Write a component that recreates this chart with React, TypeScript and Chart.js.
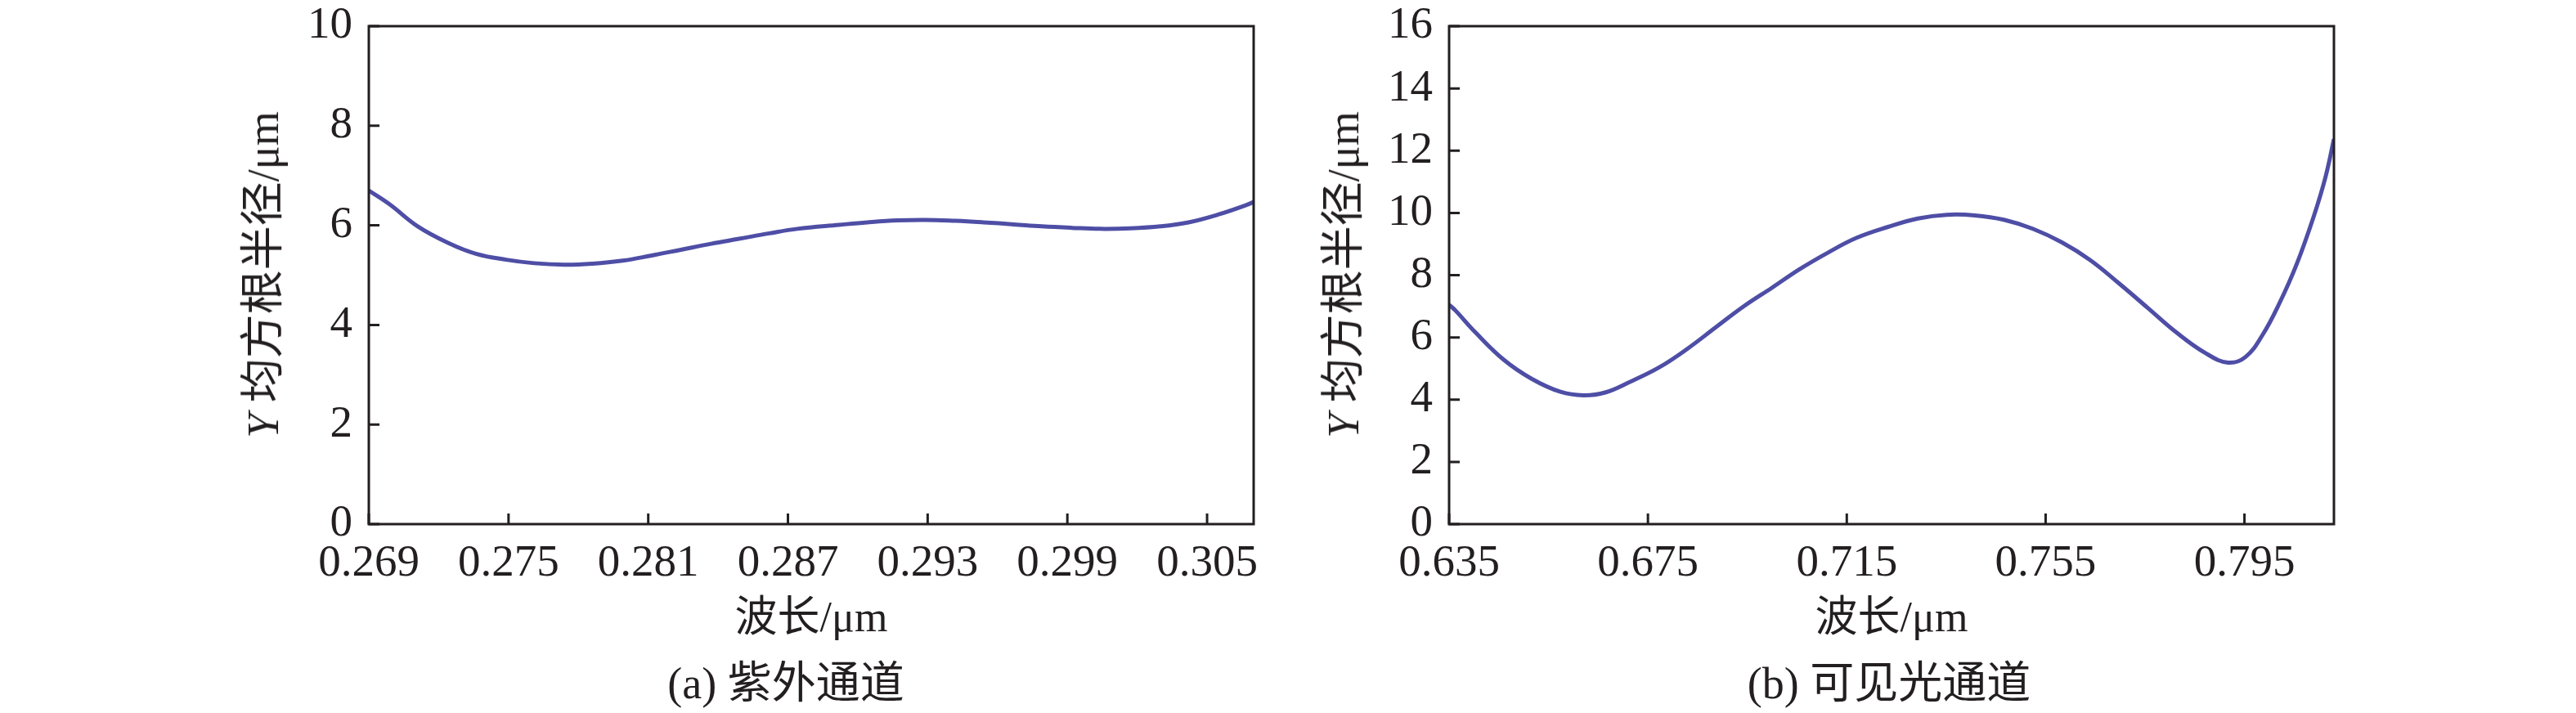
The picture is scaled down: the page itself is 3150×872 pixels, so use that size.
import React, { useEffect, useRef } from "react";
import Chart from "chart.js/auto";
import type { ChartConfiguration, Plugin } from "chart.js";

// (a) UV channel, wavelength in um vs Y RMS radius in um
const UV_WAVELENGTH = [
  0.269, 0.2699, 0.2711, 0.2724, 0.2736, 0.2749, 0.2761, 0.2774, 0.2786, 0.2799, 0.2811,
  0.2824, 0.2837, 0.2849, 0.2862, 0.2874, 0.2892, 0.2904, 0.2917, 0.2929, 0.2942, 0.2954,
  0.2967, 0.2979, 0.2992, 0.3004, 0.3017, 0.303, 0.3042, 0.3055, 0.3067, 0.307,
];
const UV_RMS_RADIUS = [
  6.7, 6.42, 5.98, 5.65, 5.43, 5.31, 5.24, 5.21, 5.23, 5.29, 5.39,
  5.51, 5.63, 5.73, 5.84, 5.93, 6.01, 6.06, 6.1, 6.11, 6.09, 6.06,
  6.02, 5.98, 5.95, 5.93, 5.94, 5.98, 6.06, 6.22, 6.41, 6.47,
];
const UV_X_TICKS = [0.269, 0.275, 0.281, 0.287, 0.293, 0.299, 0.305];

// (b) visible channel
const VIS_WAVELENGTH = [
  0.635, 0.6363, 0.6403, 0.646, 0.6516, 0.6574, 0.662, 0.6664, 0.6715, 0.6773, 0.6829,
  0.6887, 0.6943, 0.7, 0.7056, 0.7114, 0.717, 0.7233, 0.7293, 0.7351, 0.7408, 0.7466,
  0.7524, 0.7583, 0.764, 0.7698, 0.7756, 0.7813, 0.7871, 0.7917, 0.7952, 0.7986, 0.8021,
  0.8055, 0.809, 0.8113, 0.813,
];
const VIS_RMS_RADIUS = [
  7.05, 6.86, 6.16, 5.28, 4.67, 4.25, 4.14, 4.23, 4.58, 5.04, 5.63,
  6.33, 7.0, 7.6, 8.2, 8.74, 9.2, 9.55, 9.82, 9.94, 9.92, 9.78,
  9.49, 9.05, 8.48, 7.73, 6.94, 6.16, 5.5, 5.19, 5.37, 6.07, 7.12,
  8.35, 9.92, 11.15, 12.37,
];
const VIS_X_TICKS = [0.635, 0.675, 0.715, 0.755, 0.795];

const INK = "#231f20";
const LINE_COLOR = "#4e4ea6";
const SERIF = '"Liberation Serif", "Noto Sans CJK SC", serif';

const frameWithInnerTicks: Plugin = {
  id: "frameWithInnerTicks",
  afterDatasetsDraw(chart) {
    const { ctx, chartArea: area, scales } = chart;
    ctx.save();
    ctx.strokeStyle = INK;
    ctx.lineWidth = 3;
    ctx.strokeRect(area.left, area.top, area.right - area.left, area.bottom - area.top);
    ctx.beginPath();
    scales.x.ticks.forEach((tick) => {
      const px = scales.x.getPixelForValue(tick.value);
      ctx.moveTo(px, area.bottom);
      ctx.lineTo(px, area.bottom - 13);
    });
    scales.y.ticks.forEach((tick) => {
      const py = scales.y.getPixelForValue(tick.value);
      ctx.moveTo(area.left, py);
      ctx.lineTo(area.left + 13, py);
    });
    ctx.stroke();
    ctx.restore();
  },
};

const Panel: React.FC<{
  wavelength: number[];
  radius: number[];
  xTicks: number[];
  xMin: number;
  xMax: number;
  yMax: number;
  yAxisWidth: number;
  rightPad: number;
}> = ({ wavelength, radius, xTicks, xMin, xMax, yMax, yAxisWidth, rightPad }) => {
  const canvasRef = useRef<HTMLCanvasElement | null>(null);

  useEffect(() => {
    const canvas = canvasRef.current;
    if (!canvas) return;

    const tickFont = { family: SERIF, size: 55 };

    const config: ChartConfiguration = {
      type: "line",
      data: {
        datasets: [
          {
            data: wavelength.map((x, i) => ({ x, y: radius[i] })),
            borderColor: LINE_COLOR,
            borderWidth: 5,
            pointRadius: 0,
            fill: false,
            tension: 0.4,
          },
        ],
      },
      options: {
        responsive: false,
        animation: false,
        layout: { padding: { top: 32, bottom: 72, left: 0, right: rightPad } },
        plugins: { legend: { display: false }, tooltip: { enabled: false } },
        scales: {
          x: {
            type: "linear",
            min: xMin,
            max: xMax,
            grid: { display: false, drawTicks: false },
            border: { display: false },
            ticks: {
              color: INK,
              font: tickFont,
              padding: 16,
              maxRotation: 0,
              autoSkip: false,
              callback: (value) => Number(value).toFixed(3),
            },
            afterBuildTicks: (scale) => {
              scale.ticks = xTicks.map((value) => ({ value }));
            },
            afterFit: (scale) => {
              scale.height = 159;
              scale.paddingLeft = 0;
              scale.paddingRight = 0;
            },
          },
          y: {
            type: "linear",
            min: 0,
            max: yMax,
            grid: { display: false, drawTicks: false },
            border: { display: false },
            ticks: { color: INK, font: tickFont, padding: 20, stepSize: 2 },
            afterFit: (scale) => {
              scale.width = yAxisWidth;
              scale.paddingTop = 0;
              scale.paddingBottom = 0;
            },
          },
        },
      },
      plugins: [frameWithInnerTicks],
    };

    const chart = new Chart(canvas, config);
    return () => {
      chart.destroy();
    };
  }, [wavelength, radius, xTicks, xMin, xMax, yMax, yAxisWidth, rightPad]);

  return <canvas ref={canvasRef} width={1575} height={872} style={{ width: 1575, height: 872 }} />;
};

const Label: React.FC<{ x: number; y: number; size: number; rotate?: boolean; children: React.ReactNode }> = ({
  x,
  y,
  size,
  rotate,
  children,
}) => (
  <div
    style={{
      position: "absolute",
      left: x,
      top: y,
      transform: `translate(-50%, -50%)${rotate ? " rotate(-90deg)" : ""}`,
      whiteSpace: "nowrap",
      fontFamily: SERIF,
      fontSize: size,
      lineHeight: 1,
      color: INK,
    }}
  >
    {children}
  </div>
);

const yTitle = (
  <>
    <i>Y</i> 均方根半径/μm
  </>
);

export default function App() {
  return (
    <div style={{ position: "absolute", left: 0, top: 0, width: 3150, height: 872, background: "#fff" }}>
      <div style={{ position: "absolute", left: 0, top: 0 }}>
        <Panel
          wavelength={UV_WAVELENGTH}
          radius={UV_RMS_RADIUS}
          xTicks={UV_X_TICKS}
          xMin={0.269}
          xMax={0.307}
          yMax={10}
          yAxisWidth={451}
          rightPad={42}
        />
      </div>
      <div style={{ position: "absolute", left: 1575, top: 0 }}>
        <Panel
          wavelength={VIS_WAVELENGTH}
          radius={VIS_RMS_RADIUS}
          xTicks={VIS_X_TICKS}
          xMin={0.635}
          xMax={0.813}
          yMax={16}
          yAxisWidth={197}
          rightPad={296}
        />
      </div>
      <Label x={322} y={336} size={54} rotate>
        {yTitle}
      </Label>
      <Label x={1643} y={336} size={54} rotate>
        {yTitle}
      </Label>
      <Label x={992} y={755} size={52}>波长/μm</Label>
      <Label x={2313} y={755} size={52}>波长/μm</Label>
      <Label x={961} y={836} size={54}>(a) 紫外通道</Label>
      <Label x={2310} y={836} size={54}>(b) 可见光通道</Label>
    </div>
  );
}
